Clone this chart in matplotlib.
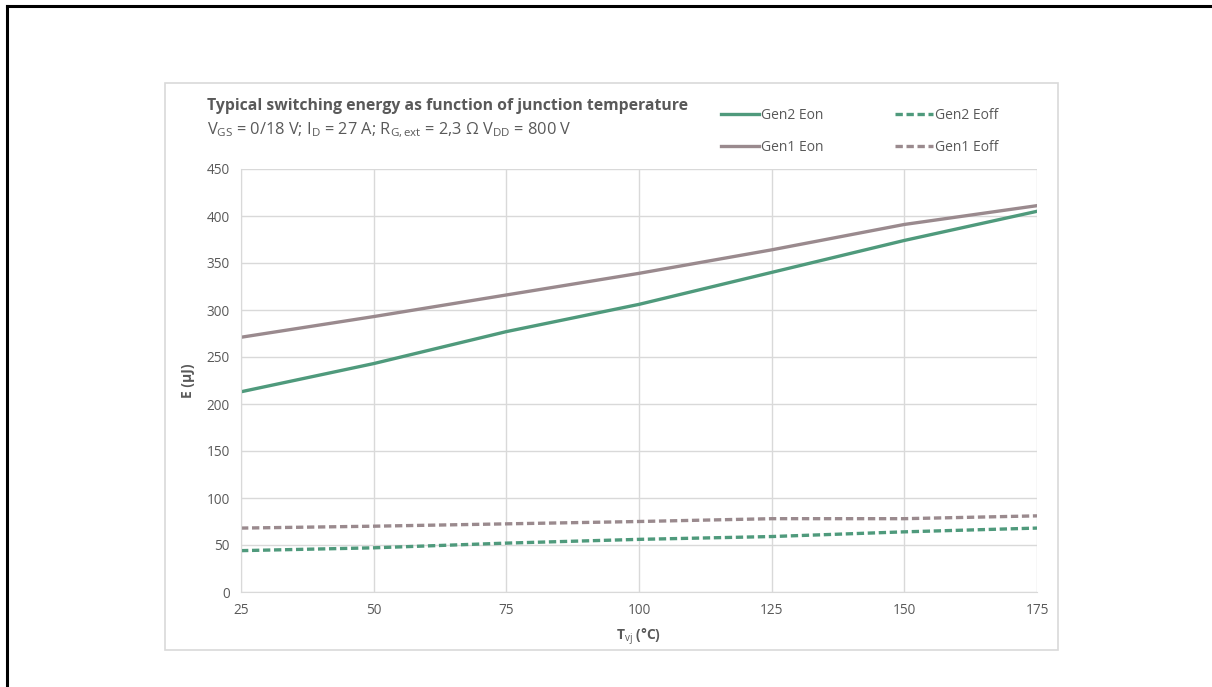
import matplotlib
matplotlib.use("Agg")
import matplotlib.pyplot as plt
from matplotlib.lines import Line2D
from matplotlib.patches import Rectangle

plt.rcParams["font.family"] = ["Open Sans", "DejaVu Sans"]
plt.rcParams["mathtext.fontset"] = "custom"
plt.rcParams["mathtext.rm"] = "Open Sans"
plt.rcParams["mathtext.it"] = "Open Sans"
plt.rcParams["mathtext.bf"] = "Open Sans:bold"

# temperatures (°C)
tvj = [25, 50, 75, 100, 125, 150, 175]

# switching energies (µJ)
gen2_eon = [213, 243, 277, 306, 340, 374, 405]
gen2_eoff = [44, 47, 52, 56, 59, 64, 68]
gen1_eon = [271, 293, 316, 339, 364, 391, 411]
gen1_eoff = [68, 70, 72.5, 75, 78, 78, 81]

green = "#4f9a7c"
mauve = "#9a8a8e"
grid_c = "#d9d9d9"
txt_c = "#595959"

W, H = 1212, 687
fig = plt.figure(figsize=(W / 100, H / 100), dpi=100)

# outer black frame (left + top) and light chart box
fig.add_artist(Line2D([7 / W, 7 / W], [0, 1 - 6 / H], color="black", lw=2.2))
fig.add_artist(Line2D([7 / W, 1], [1 - 6 / H, 1 - 6 / H], color="black", lw=2.2))
fig.add_artist(Rectangle((165 / W, 1 - 650 / H), (1058 - 165) / W, (650 - 83) / H,
                         fill=False, edgecolor=grid_c, lw=1.2))

ax = fig.add_axes([241 / W, 1 - 592 / H, (1037 - 241) / W, (592 - 169) / H])

dash = (0, (2.2, 1.1))
ax.plot(tvj, gen2_eon, color=green, lw=2.4, label="Gen2 Eon")
ax.plot(tvj, gen2_eoff, color=green, lw=2.4, ls=dash, label="Gen2 Eoff")
ax.plot(tvj, gen1_eon, color=mauve, lw=2.4, label="Gen1 Eon")
ax.plot(tvj, gen1_eoff, color=mauve, lw=2.4, ls=dash, label="Gen1 Eoff")

ax.set_xlim(25, 175)
ax.set_ylim(0, 450)
ax.set_xticks(range(25, 176, 25))
ax.set_yticks(range(0, 451, 50))
ax.grid(True, color=grid_c, lw=1)
ax.set_axisbelow(True)
for s in ["top", "right"]:
    ax.spines[s].set_visible(False)
ax.spines["left"].set_color(grid_c)
ax.spines["bottom"].set_color(grid_c)
ax.tick_params(length=0, colors=txt_c, labelsize=9.8, pad=8)

ax.set_ylabel("E (µJ)", fontsize=10, color=txt_c, fontweight="bold", labelpad=8)
ax.set_xlabel(r"T$_{\mathrm{vj}}$ (°C)", fontsize=10, color=txt_c, fontweight="bold", labelpad=6)

fig.text(207 / W, 1 - 106 / H, "Typical switching energy as function of junction temperature",
         fontsize=11.3, fontweight="bold", color=txt_c, va="center")
fig.text(207 / W, 1 - 130 / H,
         r"V$_{\mathrm{GS}}$ = 0/18 V; I$_{\mathrm{D}}$ = 27 A; R$_{\mathrm{G,ext}}$ = 2,3 $\Omega$ V$_{\mathrm{DD}}$ = 800 V",
         fontsize=11.8, color=txt_c, va="center")

handles, labels = ax.get_legend_handles_labels()
order = [0, 2, 1, 3]
fig.legend([handles[i] for i in order], [labels[i] for i in order], ncol=2,
           loc="upper left", bbox_to_anchor=(710 / W, 1 - 97 / H), frameon=False,
           fontsize=10, labelcolor=txt_c, handlelength=2.7, handletextpad=0.15,
           columnspacing=5.2, labelspacing=1.2, borderpad=0.3)

fig.savefig("out.png", dpi=100)
